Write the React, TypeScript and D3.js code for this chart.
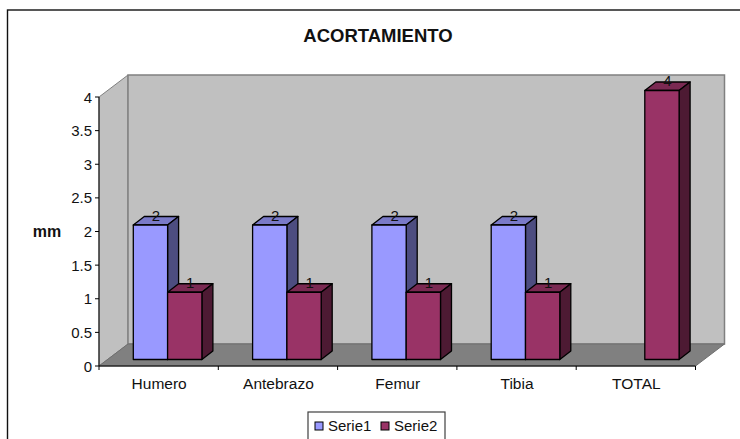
import React from "react";
import * as d3 from "d3";

const categories = ["Humero", "Antebrazo", "Femur", "Tibia", "TOTAL"];
const serie1: (number | null)[] = [2, 2, 2, 2, null];
const serie2: (number | null)[] = [1, 1, 1, 1, 4];
const yTicks = [0, 0.5, 1, 1.5, 2, 2.5, 3, 3.5, 4];

const WIDTH = 740;
const HEIGHT = 439;
const FONT = "Liberation Sans, Arial, sans-serif";

// Box geometry of the 3D plot: front floor edge, and the wall's offset behind it.
const plotLeft = 99;
const plotRight = 695.5;
const plotBottom = 366;
const plotTop = 97;
const wallDx = 29;
const wallDy = -22;

// Bars stand mid-way into the floor and have a shallower depth than the box.
const barInsetY = 6.5;
const barDx = 11;
const barDy = -8.5;

const yScale = d3.scaleLinear().domain([0, 4]).range([plotBottom, plotTop]);
const xBand = d3.scaleBand<string>().domain(categories).range([plotLeft, plotRight]);
const barWidth = xBand.bandwidth() * 0.2875;

const poly = (pts: [number, number][]) => pts.map((p) => p.join(",")).join(" ");

type BarProps = { x: number; value: number; front: string; top: string; side: string };

function Bar3D({ x, value, front, top, side }: BarProps) {
  const yB = plotBottom - barInsetY;
  const yT = yScale(value) - barInsetY;
  const r = x + barWidth;
  const line = { stroke: "#000", strokeWidth: 1.3, strokeLinejoin: "round" as const };
  return (
    <g>
      <polygon points={poly([[x, yT], [r, yT], [r + barDx, yT + barDy], [x + barDx, yT + barDy]])} fill={top} {...line} />
      <polygon points={poly([[r, yT], [r + barDx, yT + barDy], [r + barDx, yB + barDy], [r, yB]])} fill={side} {...line} />
      <rect x={x} y={yT} width={barWidth} height={yB - yT} fill={front} {...line} />
    </g>
  );
}

export default function App() {
  const text = { fontFamily: FONT, fill: "#111" };
  const bars: React.ReactNode[] = [];
  const labels: React.ReactNode[] = [];

  const addBar = (key: string, x: number, v: number | null, front: string, top: string, side: string) => {
    if (v === null) return;
    bars.push(<Bar3D key={key} x={x} value={v} front={front} top={top} side={side} />);
    labels.push(
      <text key={key} x={x + barWidth / 2 + barDx / 2} y={yScale(v) - barInsetY + barDy + 4} textAnchor="middle" fontSize={15} {...text}>
        {v}
      </text>
    );
  };

  categories.forEach((c, i) => {
    const x0 = xBand(c)! + xBand.bandwidth() * 0.2875;
    addBar(`a${i}`, x0, serie1[i], "#9999ff", "#7a7ac8", "#4d4d80");
    addBar(`b${i}`, x0 + barWidth, serie2[i], "#993366", "#7a2952", "#4d1a33");
  });

  return (
    <svg width={WIDTH} height={HEIGHT} style={{ position: "absolute", left: 0, top: 0, background: "#fff" }}>
      {/* Chart frame runs off the right and bottom of the page */}
      <rect x={7.5} y={10} width={760} height={460} fill="#fff" stroke="#111" strokeWidth={1.4} />

      <text x={378} y={42} textAnchor="middle" fontSize={18.5} fontWeight="bold" {...text}>ACORTAMIENTO</text>

      {/* Walls and floor of the 3D box */}
      <polygon points={poly([[plotLeft, plotTop], [plotLeft + wallDx, plotTop + wallDy], [plotLeft + wallDx, plotBottom + wallDy], [plotLeft, plotBottom]])} fill="#c0c0c0" stroke="#808080" strokeWidth={1} />
      <rect x={plotLeft + wallDx} y={plotTop + wallDy} width={plotRight - plotLeft} height={plotBottom - plotTop} fill="#c0c0c0" stroke="#808080" strokeWidth={1.5} />
      <polygon points={poly([[plotLeft, plotBottom], [plotLeft + wallDx, plotBottom + wallDy], [plotRight + wallDx, plotBottom + wallDy], [plotRight, plotBottom]])} fill="#808080" stroke="#6e6e6e" strokeWidth={1} />

      {bars}
      {labels}

      {/* Value axis */}
      <line x1={plotLeft} x2={plotLeft} y1={plotTop} y2={plotBottom} stroke="#000" />
      {yTicks.map((t) => (
        <g key={t}>
          <line x1={plotLeft - 4} x2={plotLeft} y1={yScale(t)} y2={yScale(t)} stroke="#000" />
          <text x={plotLeft - 7} y={yScale(t) + 5.5} textAnchor="end" fontSize={15} {...text}>{t}</text>
        </g>
      ))}

      {/* Category axis */}
      <line x1={plotLeft} x2={plotRight} y1={plotBottom} y2={plotBottom} stroke="#000" />
      {[...categories.map((c) => xBand(c)!), plotRight].map((x) => (
        <line key={x} x1={x} x2={x} y1={plotBottom} y2={plotBottom + 4} stroke="#000" />
      ))}
      {categories.map((c) => (
        <text key={c} x={xBand(c)! + xBand.bandwidth() / 2 + 0.5} y={389} textAnchor="middle" fontSize={15.5} {...text}>{c}</text>
      ))}

      <text x={47} y={237} textAnchor="middle" fontSize={16} fontWeight="bold" {...text}>mm</text>

      {/* Legend */}
      <rect x={308} y={412} width={137} height={32} fill="#fff" stroke="#404040" strokeWidth={1.2} />
      <rect x={315} y={422} width={8} height={8} fill="#9999ff" stroke="#000" />
      <text x={328} y={430.5} fontSize={15} {...text}>Serie1</text>
      <rect x={381} y={422} width={8} height={8} fill="#993366" stroke="#000" />
      <text x={394} y={430.5} fontSize={15} {...text}>Serie2</text>
    </svg>
  );
}
